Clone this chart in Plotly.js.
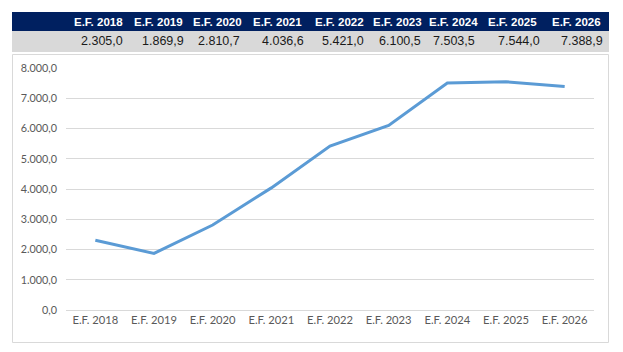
<!DOCTYPE html>
<html>
<head>
<meta charset="utf-8">
<script src="https://cdn.plot.ly/plotly-3.0.1.min.js"></script>
<style>
html,body{margin:0;padding:0;background:#fff;}
#chart{width:623px;height:352px;}
</style>
</head>
<body>
<div id="chart"></div>
<script>
// ---- data ----
const categories = ["E.F. 2018","E.F. 2019","E.F. 2020","E.F. 2021","E.F. 2022","E.F. 2023","E.F. 2024","E.F. 2025","E.F. 2026"];
const values = [2305.0, 1869.9, 2810.7, 4036.6, 5421.0, 6100.5, 7503.5, 7544.0, 7388.9];

// ---- layout constants (pixels) ----
const L = 66, R = 594, T = 68, B = 310;
const W = R - L, H = B - T;
const fx = px => (px - L) / W;
const fy = py => (B - py) / H;
// table cell edges (px)
const cellEdges = [69, 128, 189, 245, 309, 369, 426, 480, 545, 608];

function fmt(v) {
  const s = v.toFixed(1);
  const [ip, dp] = s.split(".");
  return ip.replace(/\B(?=(\d{3})+(?!\d))/g, ".") + "," + dp;
}

const shapes = [
  {type:"rect", xref:"paper", yref:"paper", x0:fx(12), x1:fx(609), y0:fy(31), y1:fy(12),
   fillcolor:"#002060", line:{width:0}, layer:"below"},
  {type:"rect", xref:"paper", yref:"paper", x0:fx(12), x1:fx(609), y0:fy(52), y1:fy(31),
   fillcolor:"#d9d9d9", line:{width:0}, layer:"below"},
  {type:"rect", xref:"paper", yref:"paper", x0:fx(12.5), x1:fx(608.5), y0:fy(342.5), y1:fy(54.5),
   fillcolor:"rgba(0,0,0,0)", line:{color:"#d9d9d9", width:1}, layer:"below"}
];

const annotations = [];
categories.forEach((c, i) => {
  const left = cellEdges[i], right = cellEdges[i+1];
  annotations.push({
    xref:"paper", yref:"paper", x:fx((left+right)/2), y:fy(21.5),
    xanchor:"center", yanchor:"middle", showarrow:false, text:"<b>"+c+"</b>",
    font:{family:"Liberation Sans, Arial, sans-serif", size:11.5, color:"#ffffff"}
  });
  annotations.push({
    xref:"paper", yref:"paper", x:fx(right-3), y:fy(41.5),
    xanchor:"right", yanchor:"middle", showarrow:false, text:fmt(values[i]),
    font:{family:"Liberation Sans, Arial, sans-serif", size:12.5, color:"#1a1a1a"}
  });
});

const trace = {
  type:"scatter", mode:"lines", x:categories, y:values,
  line:{color:"#5b9bd5", width:3}, hoverinfo:"skip"
};

const layout = {
  width:623, height:352, autosize:false,
  margin:{l:L, r:623-R, t:T, b:352-B, pad:0},
  paper_bgcolor:"#ffffff", plot_bgcolor:"#ffffff",
  showlegend:false,
  separators:",.",
  font:{family:"Lato, Open Sans, sans-serif", size:10.5, color:"#595959"},
  xaxis:{type:"category", range:[-0.5, categories.length-0.5], showgrid:false, zeroline:false,
         showline:false, ticks:"", ticklabelstandoff:2, tickfont:{size:11.2, color:"#595959"}, fixedrange:true},
  yaxis:{range:[0,8000], dtick:1000, tickformat:",.1f", showgrid:true, gridcolor:"#d9d9d9",
         gridwidth:1, zeroline:true, zerolinecolor:"#d9d9d9", zerolinewidth:1, showline:false,
         ticks:"", ticklabelstandoff:8, tickfont:{size:10.8, color:"#595959"}, fixedrange:true},
  shapes:shapes,
  annotations:annotations
};

Plotly.newPlot("chart", [trace], layout, {displayModeBar:false, staticPlot:true});
</script>
</body>
</html>
